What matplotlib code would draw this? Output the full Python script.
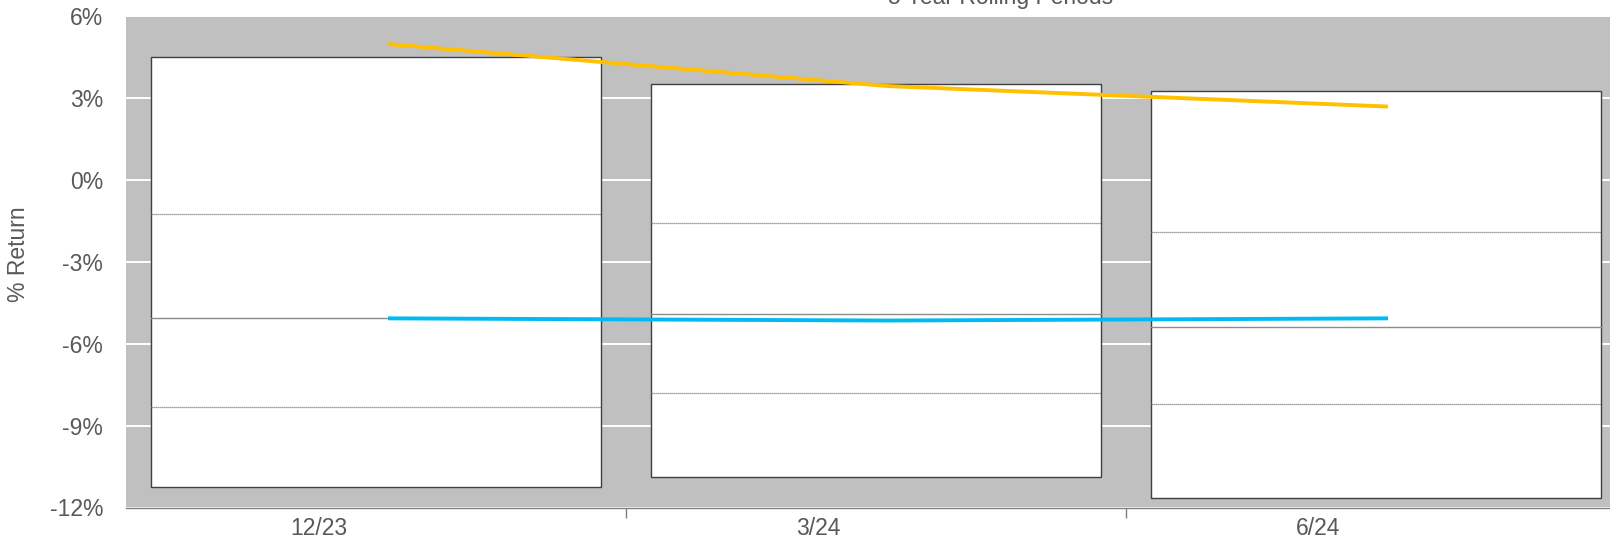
import numpy as np
import matplotlib
matplotlib.use('Agg')
import matplotlib.pyplot as plt

# --- data ---
periods = ['12/23', '3/24', '6/24']
box_top = [4.49, 3.51, 3.25]
box_q3 = [-1.23, -1.57, -1.91]
box_median = [-5.04, -4.92, -5.37]
box_q1 = [-8.31, -7.79, -8.20]
box_bottom = [-11.25, -10.87, -11.66]
orange_line = [4.98, 3.44, 2.69]
blue_line = [-5.07, -5.15, -5.07]
y_ticks = [6, 3, 0, -3, -6, -9, -12]

plt.rcParams['font.family'] = ['Liberation Sans', 'DejaVu Sans']
TEXT = '#595959'
FS = 16.5

fig = plt.figure(figsize=(16.1, 5.4), dpi=100)
# axes runs a little past the right edge, as in the reference
ax = fig.add_axes([126 / 1610, 1 - 507.5 / 540, 1500 / 1610, (507.5 - 16.2) / 540])
ax.set_facecolor('#C0C0C0')

x = np.arange(len(periods))
box_w = 0.9

for i in range(len(periods)):
    ax.bar(x[i], box_top[i] - box_bottom[i], bottom=box_bottom[i], width=box_w,
           color='white', edgecolor='#404040', linewidth=1.0, zorder=2)
    xs = [x[i] - box_w / 2, x[i] + box_w / 2]
    ax.plot(xs, [box_q3[i]] * 2, color='#7f7f7f', lw=0.9, ls=(0, (1, 0.6)), zorder=3)
    ax.plot(xs, [box_median[i]] * 2, color='#8c8c8c', lw=1.0, zorder=3)
    ax.plot(xs, [box_q1[i]] * 2, color='#7f7f7f', lw=0.9, ls=(0, (1, 0.6)), zorder=3)

ax.plot(x + 0.024, orange_line, color='#FFC000', lw=2.8, solid_capstyle='butt', zorder=4)
ax.plot(x + 0.024, blue_line, color='#00BAF2', lw=2.8, solid_capstyle='butt', zorder=4)

ax.set_xlim(-0.5, 2.5)
ax.set_ylim(-12, 6)
ax.set_yticks(y_ticks)
ax.set_yticklabels([f'{v}%' for v in y_ticks])
ax.yaxis.grid(True, color='white', lw=1.4, zorder=1)
ax.set_axisbelow(True)

# category labels sit slightly left of the box centres
ax.set_xticks(x - 0.115)
ax.set_xticklabels(periods)
ax.set_xticks([0.5, 1.5], minor=True)
ax.tick_params(axis='x', which='major', length=0, pad=7, labelsize=FS, labelcolor=TEXT)
ax.tick_params(axis='x', which='minor', length=7, color='#7f7f7f', width=1)
ax.tick_params(axis='y', length=0, pad=16.5, labelsize=FS, labelcolor=TEXT)

for s in ['top', 'right', 'left']:
    ax.spines[s].set_visible(False)
ax.spines['bottom'].set_color('#808080')
ax.spines['bottom'].set_linewidth(1.0)

fig.text(18.5 / 1610, 1 - 254 / 540, '% Return', rotation=90, ha='center', va='center',
         fontsize=FS, color=TEXT)
fig.text(1001 / 1610, 1 - 4 / 540, '5 Year Rolling Periods', ha='center', va='baseline',
         fontsize=FS, color=TEXT)

fig.savefig('out.png', dpi=100)
